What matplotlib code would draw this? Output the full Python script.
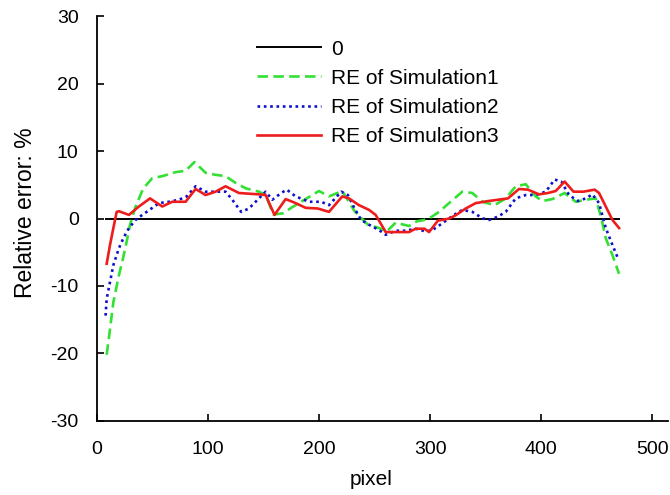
import numpy as np
import matplotlib
matplotlib.use('Agg')
import matplotlib.pyplot as plt

plt.rcParams['font.family'] = ['Liberation Sans', 'DejaVu Sans']
plt.rcParams['axes.unicode_minus'] = False

# zero reference line
x0 = [8, 470]
y0 = [0, 0]

# RE of Simulation1 (green dashed)
x1 = [9, 12, 15, 20, 23, 27, 30, 35, 42, 50, 59, 71, 80, 88, 98, 107, 116, 125, 134,
      146, 152, 159, 168, 175, 190, 200, 209, 221, 232, 244, 254, 261, 269, 281, 288,
      298, 308, 317, 329, 338, 347, 358, 368, 377, 386, 395, 401, 410, 421, 431, 440,
      449, 454, 458, 464, 470]
y1 = [-20.2, -16.4, -12.4, -8.4, -6.4, -3.4, -0.9, 1.8, 4.5, 6.0, 6.3, 6.9, 7.1, 8.4,
      6.8, 6.5, 6.3, 5.3, 4.5, 4.0, 3.5, 0.6, 0.8, 1.6, 3.1, 4.1, 3.3, 4.1, 1.1, -0.9,
      -1.4, -1.9, -0.6, -1.1, -0.4, -0.1, 1.0, 2.3, 4.0, 3.8, 2.5, 2.0, 3.0, 4.8, 5.1,
      3.3, 2.6, 2.9, 3.8, 2.5, 2.8, 3.0, 0.1, -2.9, -5.4, -8.2]

# RE of Simulation2 (blue dotted)
x2 = [8, 9, 12, 15, 20, 24, 29, 35, 41, 45, 56, 65, 74, 81, 89, 98, 108, 116, 122,
      130, 137, 146, 152, 158, 166, 171, 179, 191, 202, 209, 220, 226, 232, 238, 245,
      254, 260, 269, 278, 287, 296, 302, 311, 320, 329, 338, 347, 353, 361, 368, 377,
      386, 395, 404, 412, 418, 425, 433, 440, 446, 452, 458, 464, 469]
y2 = [-14.4, -11.9, -9.4, -6.9, -4.4, -2.9, -1.4, -0.2, 0.55, 1.0, 2.3, 2.5, 2.8, 3.3,
      4.8, 4.0, 4.0, 4.0, 2.8, 1.0, 1.5, 3.0, 4.0, 2.8, 3.8, 4.3, 3.3, 2.5, 2.5, 2.0,
      4.0, 3.5, 1.5, -0.2, -0.9, -1.7, -2.4, -1.8, -1.8, -1.5, -1.9, -1.7, -0.7, 0.4,
      1.3, 1.0, 0.05, -0.2, 0.3, 1.0, 3.0, 3.5, 3.5, 4.0, 5.8, 5.5, 3.5, 2.6, 3.0, 3.6,
      2.3, -1.4, -3.9, -5.9]

# RE of Simulation3 (red solid)
x3 = [9, 12, 15, 18, 20, 29, 38, 48, 59, 68, 80, 89, 98, 107, 116, 128, 146, 152, 160,
      170, 179, 188, 199, 209, 221, 227, 236, 245, 251, 259, 260, 269, 281, 287, 295,
      299, 307, 317, 323, 332, 341, 352, 361, 370, 380, 388, 398, 406, 413, 421, 429,
      438, 448, 452, 458, 464, 470]
y3 = [-6.7, -3.9, -1.4, 1.0, 1.1, 0.55, 1.8, 3.0, 1.8, 2.5, 2.5, 4.4, 3.5, 4.0, 4.8,
      3.8, 3.6, 3.5, 0.55, 2.9, 2.3, 1.6, 1.5, 1.0, 3.3, 3.0, 2.0, 1.3, 0.55, -1.7,
      -2.0, -2.0, -2.0, -1.5, -1.5, -2.0, -0.3, 0.0, 0.5, 1.5, 2.3, 2.6, 2.8, 3.0, 4.4,
      4.3, 3.6, 3.8, 4.1, 5.5, 4.0, 4.0, 4.3, 3.8, 1.8, -0.2, -1.4]

fig = plt.figure(figsize=(6.7, 4.95), dpi=100)
ax = fig.add_axes([0.1443, 0.150, 0.8527, 0.8167])

ax.plot(x0, y0, color='black', linewidth=1.4, label='0')
ax.plot(x1, y1, color='#33e033', linewidth=1.9, dashes=(4, 2), label='RE of Simulation1')
ax.plot(x2, y2, color='#1010cc', linewidth=1.9, dashes=(1, 1.4), label='RE of Simulation2')
ax.plot(x3, y3, color='#ee1c1c', linewidth=1.9, label='RE of Simulation3')

ax.set_xlim(0, 514)
ax.set_ylim(-30, 30)
ax.set_xticks([0, 100, 200, 300, 400, 500])
ax.set_yticks([-30, -20, -10, 0, 10, 20, 30])
ax.spines['top'].set_visible(False)
ax.spines['right'].set_visible(False)
ax.spines['left'].set_linewidth(1.3)
ax.spines['bottom'].set_linewidth(1.3)
ax.tick_params(direction='in', length=5, width=1.2, labelsize=14)
ax.tick_params(axis='x', pad=14.5)
ax.tick_params(axis='y', pad=13)

ax.set_xlabel('pixel', fontsize=15)
ax.set_ylabel('Relative error: %', fontsize=16.5)
ax.xaxis.set_label_coords(0.48, -0.122)
ax.yaxis.set_label_coords(-0.104, 0.515)

ax.legend(loc='upper left', bbox_to_anchor=(0.28, 0.943), frameon=False, fontsize=15,
          handlelength=3.1, handletextpad=0.48, borderpad=0, borderaxespad=0,
          labelspacing=0.49)

fig.savefig('out.png', dpi=100)
